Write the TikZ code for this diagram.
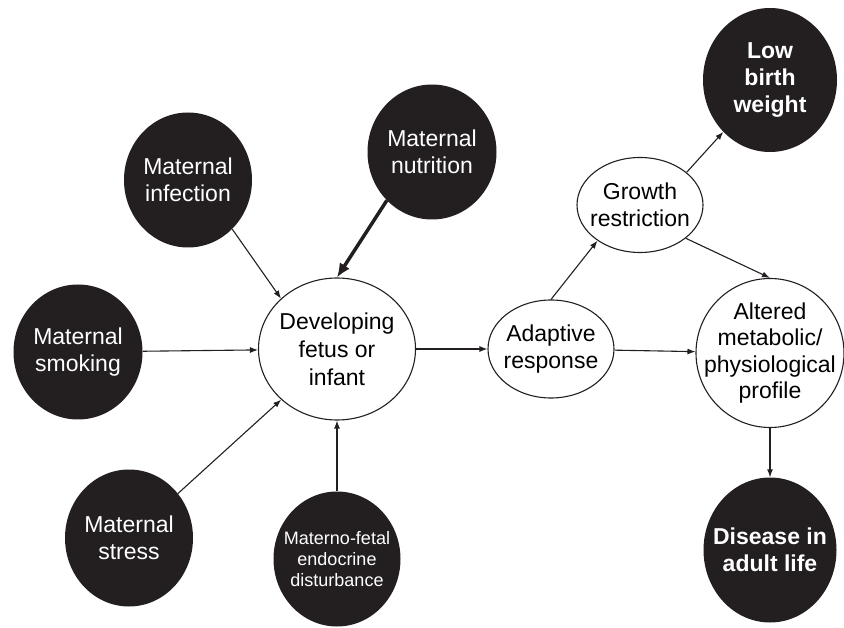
\documentclass[tikz,border=0pt]{standalone}
\usepackage{fontspec}
\setmainfont{Liberation Sans}
\usepackage{tikz}
\usetikzlibrary{
  % ellipse nodes
  shapes.geometric,%
  arrows.meta
}
\definecolor{blob}{HTML}{231F20}
\tikzset{>={Latex[length=8pt,width=6pt]}}
\tikzset{
  factor/.style={ellipse, fill=blob, text=white, align=center,
    inner xsep=-25pt, inner ysep=-20pt,
    minimum width=128, minimum height=135, font=\fontsize{23}{27}\selectfont},
  outcome/.style={factor, font=\fontsize{23}{27}\selectfont\bfseries},
  stage/.style={ellipse, draw=blob, line width=1.1pt, align=center,
    inner xsep=-25pt, inner ysep=-20pt, font=\fontsize{23}{27}\selectfont},
  link/.style={->, line width=1.1pt, draw=blob}
}

\begin{document}
\begin{tikzpicture}[x=1pt, y=-1pt]
  \useasboundingbox (0,0) rectangle (844,628);
  % maternal factors
  \node[factor] (infection) at (188,180) {Maternal\\infection};
  \node[factor, minimum width=129] (nutrition) at (432,152) {Maternal\\nutrition};
  \node[factor, minimum width=129] (smoking) at (78,352) {Maternal\\smoking};
  \node[factor, minimum height=137] (stress) at (129,538) {Maternal\\stress};
  \node[factor, minimum width=127, font=\fontsize{18}{21}\selectfont] (endocrine) at (337,559)
    {Materno-fetal\\endocrine\\disturbance};
  % middle chain
  \node[stage, minimum width=157, minimum height=142, font=\fontsize{23}{28}\selectfont]
    (fetus) at (337,349) {Developing\\fetus or\\infant};
  \node[stage, minimum width=126, minimum height=98] (adaptive) at (551,349) {Adaptive\\response};
  \node[stage, minimum width=126, minimum height=95] (growth) at (640,205) {Growth\\restriction};
  \node[stage, minimum width=148, minimum height=149, font=\fontsize{23}{26.5}\selectfont]
    (altered) at (770,353) {Altered\\metabolic/\\physiological\\profile};
  % outcomes
  \node[outcome, minimum width=134, minimum height=144] (lowbw) at (770,80) {Low\\birth\\weight};
  \node[outcome, minimum width=133, minimum height=145] (disease) at (770,550) {Disease in\\adult life};

  \draw[link] (infection.-48) -- (fetus.138);
  \draw[link, line width=3.5pt, -{Latex[length=14pt,width=12pt]}] (nutrition.227) -- (fetus.north);
  \draw[link] (smoking) -- (fetus);
  \draw[link] (stress) -- (fetus);
  \draw[link] (endocrine) -- (fetus);
  \draw[link] (fetus) -- (adaptive);
  \draw[link] (adaptive.north) -- (growth.220);
  \draw[link] (adaptive) -- (altered);
  \draw[link] (growth.35) -- (lowbw.228);
  \draw[link] (growth.-36) -- (altered.north);
  \draw[link] (altered) -- (disease);
\end{tikzpicture}
\end{document}
